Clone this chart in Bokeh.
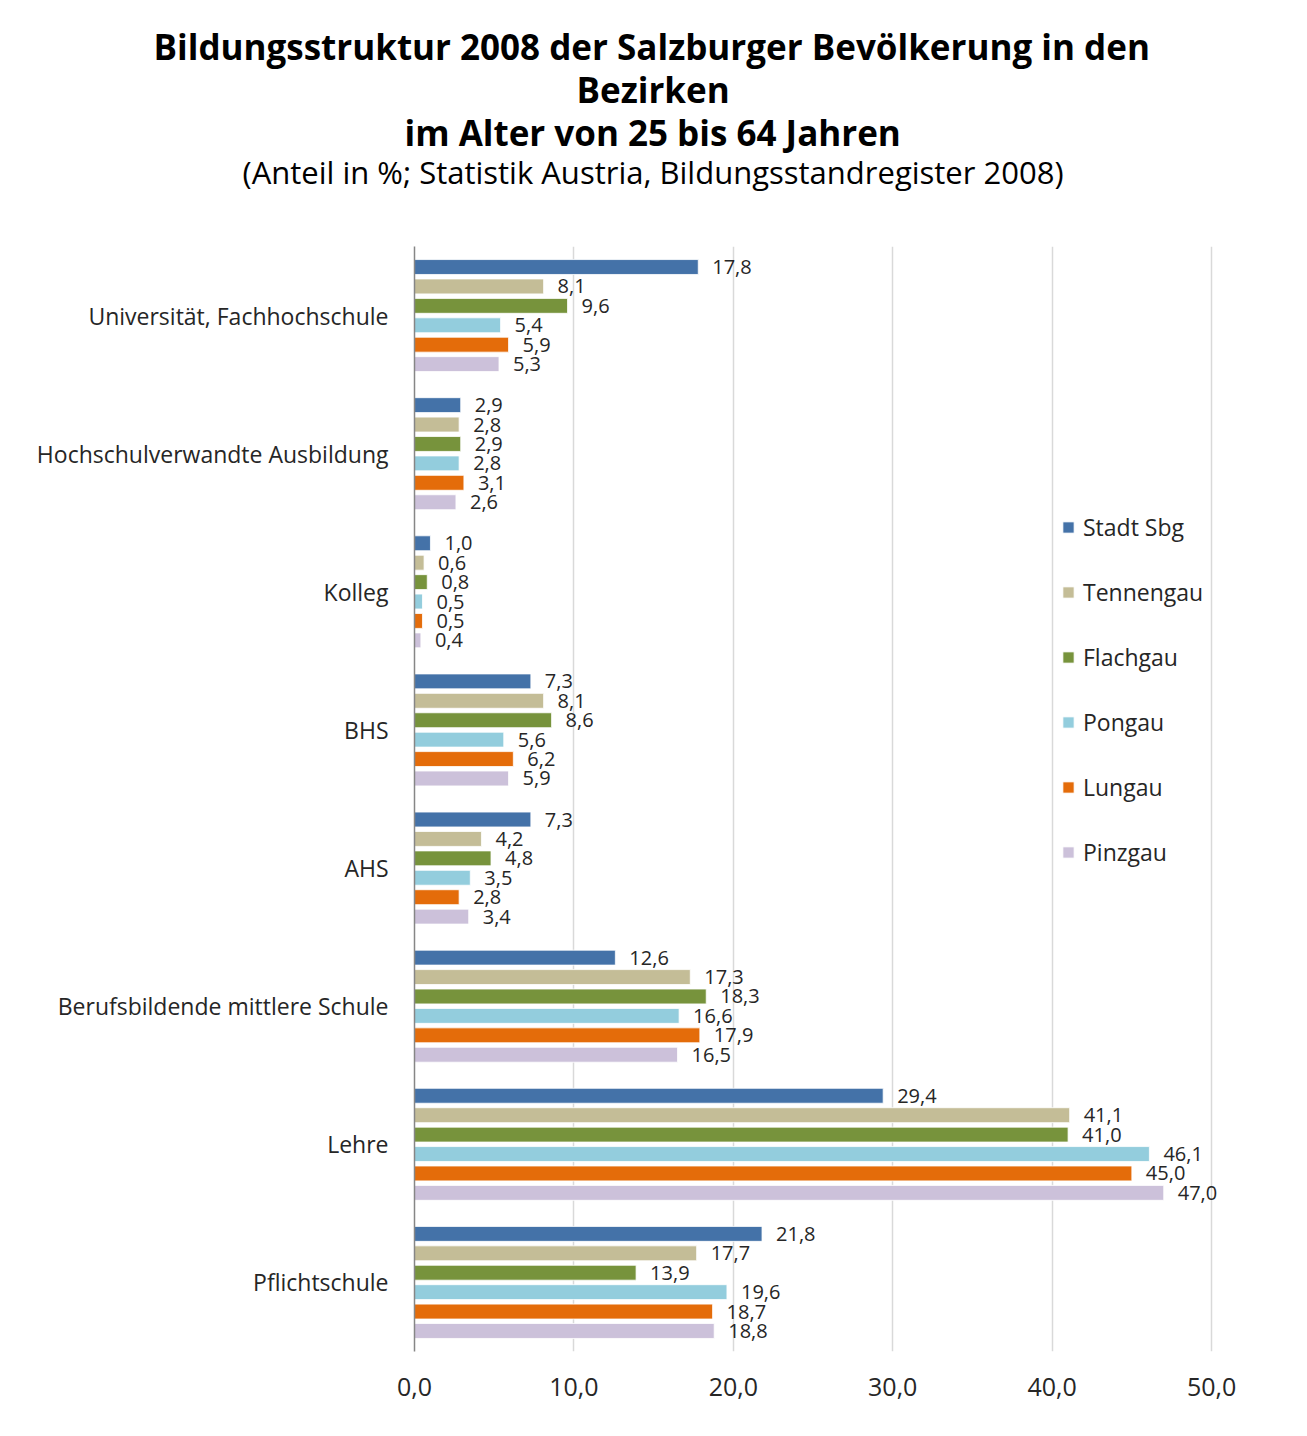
from bokeh.plotting import figure
from bokeh.models import (ColumnDataSource, FactorRange, Legend, LegendItem,
                          FixedTicker, Title)
from bokeh.transform import dodge
from bokeh.core.properties import value
from bokeh.embed import file_html
from bokeh.resources import INLINE

categories = ["Universität, Fachhochschule", "Hochschulverwandte Ausbildung", "Kolleg",
              "BHS", "AHS", "Berufsbildende mittlere Schule", "Lehre", "Pflichtschule"]
series = ["Stadt Sbg", "Tennengau", "Flachgau", "Pongau", "Lungau", "Pinzgau"]
colors = ["#4472A8", "#C4BD97", "#77933C", "#93CDDD", "#E46C0A", "#CCC1DA"]
stadt_sbg = [17.8, 2.9, 1.0, 7.3, 7.3, 12.6, 29.4, 21.8]
tennengau = [8.1, 2.8, 0.6, 8.1, 4.2, 17.3, 41.1, 17.7]
flachgau = [9.6, 2.9, 0.8, 8.6, 4.8, 18.3, 41.0, 13.9]
pongau = [5.4, 2.8, 0.5, 5.6, 3.5, 16.6, 46.1, 19.6]
lungau = [5.9, 3.1, 0.5, 6.2, 2.8, 17.9, 45.0, 18.7]
pinzgau = [5.3, 2.6, 0.4, 5.9, 3.4, 16.5, 47.0, 18.8]
values_all = [stadt_sbg, tennengau, flachgau, pongau, lungau, pinzgau]
x_ticks = [0, 10, 20, 30, 40, 50]
title_lines = ["Bildungsstruktur 2008 der Salzburger Bevölkerung in den",
               "Bezirken", "im Alter von 25 bis 64 Jahren"]
subtitle = "(Anteil in %; Statistik Austria, Bildungsstandregister 2008)"

FONT = "Open Sans"
TXT = "#262626"

p = figure(width=1300, height=1430, output_backend="svg", toolbar_location=None,
           y_range=FactorRange(factors=list(reversed(categories))),
           x_range=(0, 51), min_border_left=414, min_border_right=73,
           min_border_bottom=79, min_border_top=0)

step = 0.1406
bar_h = 0.108
items = []
for i, (name, vals, col) in enumerate(zip(series, values_all, colors)):
    off = (2.5 - i) * step
    src = ColumnDataSource(dict(cat=categories, v=vals,
                                lab=[f"{v:.1f}".replace(".", ",") for v in vals]))
    r = p.hbar(y=dodge("cat", off, range=p.y_range), right="v", left=0, height=bar_h,
               source=src, fill_color=col, line_color="white", line_width=0.8)
    p.text(x="v", y=dodge("cat", off, range=p.y_range), text="lab", source=src,
           x_offset=14, text_align="left", text_baseline="middle",
           text_font=value(FONT), text_font_size="20px", text_color=TXT)
    items.append(LegendItem(label=name, renderers=[r]))

legend = Legend(items=items, location=(647, 483), border_line_color=None,
                background_fill_alpha=0, padding=0, margin=0, spacing=33,
                glyph_width=14, glyph_height=14, label_height=20,
                label_text_font=FONT, label_text_font_size="23px",
                label_text_color=TXT, label_standoff=8)
p.add_layout(legend)

p.xaxis.ticker = FixedTicker(ticks=x_ticks)
p.xaxis.major_label_overrides = {t: f"{t:.1f}".replace(".", ",") for t in x_ticks}
p.xaxis.axis_line_color = None
p.xaxis.major_tick_line_color = None
p.xaxis.minor_tick_line_color = None
p.xaxis.major_label_standoff = 20
p.xaxis.major_label_text_font = FONT
p.xaxis.major_label_text_font_size = "25px"
p.xaxis.major_label_text_color = TXT

p.yaxis.axis_line_color = "#868686"
p.yaxis.axis_line_width = 1.5
p.yaxis.major_tick_line_color = None
p.yaxis.major_label_standoff = 20
p.yaxis.major_label_text_font = FONT
p.yaxis.major_label_text_font_size = "23px"
p.yaxis.major_label_text_color = TXT

p.xgrid.grid_line_color = "#D9D9D9"
p.xgrid.grid_line_width = 1.5
p.ygrid.grid_line_color = None
p.outline_line_color = None


def add_title(text, size, style="normal", offset=0, standoff=0):
    t = Title(text=text, align="left", offset=offset, standoff=0,
              text_font=FONT, text_font_style=style, text_font_size=size,
              text_color="#000000")
    try:
        t.standoff = standoff
    except ValueError:
        t.standoff = 0
    p.add_layout(t, "above")


# title block, added from the plot outward (offsets relative to frame's left edge)
add_title(" ", "41px")
add_title(subtitle, "31px", offset=-172, standoff=-8.8)
add_title(title_lines[2], "35px", "bold", offset=-10, standoff=-5.6)
add_title(title_lines[1], "35px", "bold", offset=162, standoff=-5.6)
add_title(title_lines[0], "35px", "bold", offset=-261, standoff=-5.6)
add_title(" ", "16px")

open("out.html", "w").write(file_html(p, INLINE))
